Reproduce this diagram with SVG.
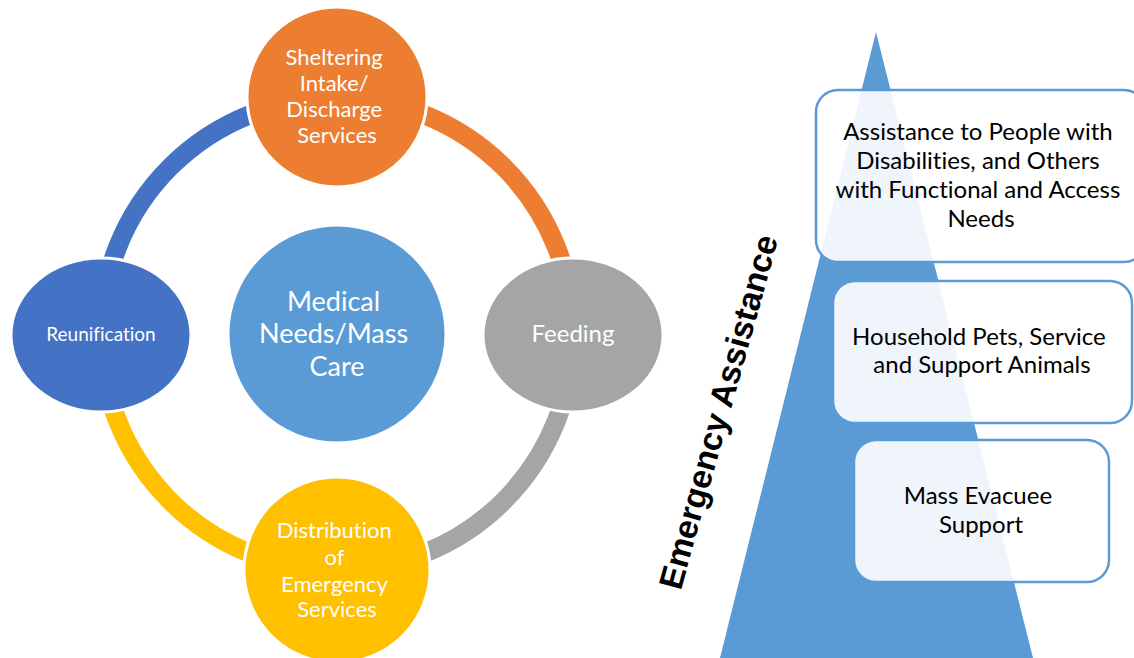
<svg xmlns="http://www.w3.org/2000/svg" width="1134" height="658" viewBox="0 0 1134 658">
  <style>
    text { font-variant-ligatures: none; }
    .ring { fill: none; stroke-width: 19; }
    .node { stroke: #ffffff; stroke-width: 3; }
    .lbl { font-family: Lato, "Open Sans", sans-serif; fill: #ffffff; text-anchor: middle; }
    .box { fill: #ffffff; fill-opacity: 0.9; stroke: #5b9bd5; stroke-width: 2.5; }
    .btxt { font-family: Lato, "Open Sans", sans-serif; font-size: 24px; fill: #000000; text-anchor: middle; }
  </style>
  <rect width="1134" height="658" fill="#ffffff"/>

  <!-- cycle ring segments -->
  <g id="connectors">
    <path class="ring" stroke="#4472c4" d="M 101 334 A 236 236 0 0 1 337 98"/>
    <path class="ring" stroke="#ed7d31" d="M 337 98 A 236 236 0 0 1 573 334"/>
    <path class="ring" stroke="#a5a5a5" d="M 573 334 A 236 236 0 0 1 337 570"/>
    <path class="ring" stroke="#ffc000" d="M 337 570 A 236 236 0 0 1 101 334"/>
  </g>

  <g id="center">
    <circle class="node" cx="337" cy="334" r="109" fill="#5b9bd5"/>
    <text class="lbl" font-size="27">
      <tspan x="337" y="311">Medical</tspan>
      <tspan x="337" y="343">Needs/Mass</tspan>
      <tspan x="337" y="376">Care</tspan>
    </text>
  </g>

  <g id="sheltering">
    <circle class="node" cx="337" cy="97" r="90" fill="#ed7d31"/>
    <text class="lbl" font-size="22">
      <tspan x="337" y="65">Sheltering</tspan>
      <tspan x="337" y="91">Intake/</tspan>
      <tspan x="337" y="117">Discharge</tspan>
      <tspan x="337" y="143">Services</tspan>
    </text>
  </g>

  <g id="feeding">
    <ellipse class="node" cx="573" cy="335" rx="90" ry="77" fill="#a5a5a5"/>
    <text class="lbl" font-size="24" x="573" y="342">Feeding</text>
  </g>

  <g id="distribution">
    <circle class="node" cx="337" cy="570" r="93" fill="#ffc000"/>
    <text class="lbl" font-size="22">
      <tspan x="337" y="538">Distribution</tspan>
      <tspan x="337" y="565">of</tspan>
      <tspan x="337" y="592">Emergency</tspan>
      <tspan x="337" y="617">Services</tspan>
    </text>
  </g>

  <g id="reunification">
    <ellipse class="node" cx="101" cy="335" rx="90" ry="77" fill="#4472c4"/>
    <text class="lbl" font-size="19" x="101" y="341">Reunification</text>
  </g>

  <!-- pyramid with stacked tiers -->
  <g id="pyramid">
    <polygon points="876,32 720,658 1033,658" fill="#5b9bd5"/>
  </g>

  <g id="label-emergency">
    <text transform="translate(729.5,415) rotate(-74.5)" font-family="'Liberation Sans', Arial, sans-serif" font-weight="bold" font-size="33.5" text-anchor="middle" fill="#000000">Emergency Assistance</text>
  </g>

  <g id="tier-access">
    <rect class="box" x="816" y="90" width="330" height="172" rx="22"/>
    <text class="btxt">
      <tspan x="981" y="140">Assistance to People with</tspan>
      <tspan x="981" y="169">Disabilities, and Others</tspan>
      <tspan x="981" y="198">with Functional and Access</tspan>
      <tspan x="981" y="227">Needs</tspan>
    </text>
  </g>

  <g id="tier-pets">
    <rect class="box" x="833" y="281" width="299" height="142" rx="22"/>
    <text class="btxt">
      <tspan x="982" y="345">Household Pets, Service</tspan>
      <tspan x="982" y="373">and Support Animals</tspan>
    </text>
  </g>

  <g id="tier-evacuee">
    <rect class="box" x="854" y="440" width="255" height="142" rx="22"/>
    <text class="btxt">
      <tspan x="981" y="504">Mass Evacuee</tspan>
      <tspan x="981" y="533">Support</tspan>
    </text>
  </g>
</svg>
